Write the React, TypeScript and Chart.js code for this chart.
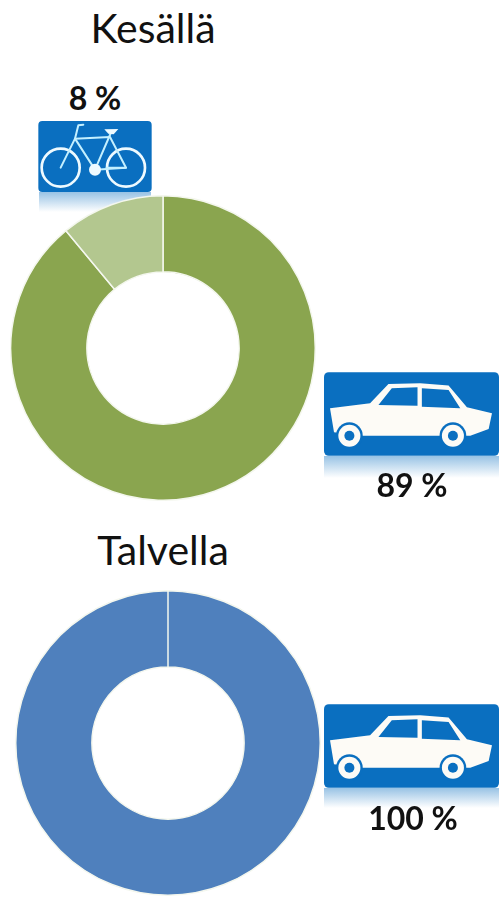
import React, { useEffect, useRef } from "react";
import { Chart, registerables } from "chart.js";

Chart.register(...registerables);

const summerTitle = "Kesällä";
const winterTitle = "Talvella";
const summerCategories = ["Auto", "Polkupyörä"];
// Slice sizes as drawn in the picture (the light slice is wider than its 8 % label).
const summerSlices = [89, 11];
const summerCarLabel = 89;
const summerBikeLabel = 8;
const winterCategories = ["Auto"];
const winterSlices = [100];
const winterCarLabel = 100;
const summerColors = ["#8aa54f", "#b3c78f"];
const winterColors = ["#4f80bd"];

const SIGN = "#0a6fc0";
const FONT = "Lato, 'Open Sans', sans-serif";

function Donut(p: { labels: string[]; data: number[]; colors: string[]; cx: number; cy: number; r: number }) {
  const ref = useRef<HTMLCanvasElement>(null);
  useEffect(() => {
    const chart = new Chart(ref.current!, {
      type: "doughnut",
      data: {
        labels: p.labels,
        datasets: [{ data: p.data, backgroundColor: p.colors, borderColor: "#f4f7ee", borderWidth: 1.5 }],
      },
      options: {
        responsive: false,
        animation: false,
        cutout: "50%",
        plugins: { legend: { display: false }, tooltip: { enabled: false } },
      },
    });
    return () => chart.destroy();
  }, []);
  const s = p.r * 2;
  return (
    <canvas
      ref={ref}
      width={s}
      height={s}
      style={{ position: "absolute", left: p.cx - p.r, top: p.cy - p.r, width: s, height: s }}
    />
  );
}

function Txt(p: { x: number; y: number; size: number; bold?: boolean; children: React.ReactNode }) {
  return (
    <div
      style={{
        position: "absolute",
        left: p.x - 120,
        top: p.y - 30,
        width: 240,
        height: 60,
        lineHeight: "60px",
        textAlign: "center",
        fontFamily: FONT,
        fontSize: p.size,
        fontWeight: p.bold ? 700 : 400,
        color: "#111",
      }}
    >
      {p.children}
    </div>
  );
}

function Reflection(p: { id: string; x: number; y: number; w: number; h: number }) {
  return (
    <svg style={{ position: "absolute", left: p.x, top: p.y }} width={p.w} height={p.h}>
      <defs>
        <linearGradient id={p.id} x1="0" y1="0" x2="0" y2="1">
          <stop offset="0" stopColor={SIGN} stopOpacity="0.42" />
          <stop offset="1" stopColor={SIGN} stopOpacity="0" />
        </linearGradient>
      </defs>
      <rect width={p.w} height={p.h} fill={`url(#${p.id})`} />
    </svg>
  );
}

function CarSign(p: { x: number; y: number }) {
  return (
    <svg style={{ position: "absolute", left: p.x, top: p.y }} width={175} height={84} viewBox="0 0 524 250">
      <rect width="524" height="250" rx="14" fill={SIGN} />
      <path
        d="M18 108 L138 93 L193 35 L288 33 L373 40 L428 105 L503 123 L493 170 L438 190 L113 190 L30 180 Z"
        fill="#fdfbf6"
      />
      <path d="M163 98 L203 48 L280 45 L280 100 Z M293 48 L373 53 L408 108 L293 103 Z" fill={SIGN} />
      {[76, 386].map((cx) => (
        <g key={cx}>
          <circle cx={cx} cy={190} r={40} fill={SIGN} />
          <circle cx={cx} cy={190} r={33} fill="#fdfbf6" />
          <circle cx={cx} cy={190} r={15} fill={SIGN} />
        </g>
      ))}
    </svg>
  );
}

function BikeSign(p: { x: number; y: number }) {
  return (
    <svg style={{ position: "absolute", left: p.x, top: p.y }} width={114} height={71} viewBox="0 0 340 213">
      <rect width="340" height="213" rx="12" fill={SIGN} />
      <g fill="none" stroke="#eefaff" strokeWidth="8" strokeLinecap="round" strokeLinejoin="round">
        <circle cx="67" cy="140" r="57" />
        <circle cx="263" cy="140" r="57" />
      </g>
      <g fill="none" stroke="#c4f0ff" strokeWidth="6" strokeLinecap="round" strokeLinejoin="round">
        <path d="M67 140 L110 53 L215 48 L263 140 L170 146 L110 53" />
        <path d="M220 30 L170 146 M205 140 L263 140" />
        <path d="M110 53 L120 13 L135 11" />
      </g>
      <path d="M198 25 L240 24 L226 40 L210 38 Z" fill="#eefaff" />
      <circle cx="170" cy="146" r="18" fill="#eefaff" />
    </svg>
  );
}

export default function App() {
  return (
    <div
      style={{
        position: "absolute",
        left: 0,
        top: 0,
        width: 499,
        height: 897,
        background: "#fff",
        overflow: "hidden",
        filter: "blur(0.4px)",
      }}
    >
      <Txt x={153} y={28} size={41}>{summerTitle}</Txt>
      <Txt x={95} y={98} size={32} bold>{summerBikeLabel} %</Txt>
      <Reflection id="r1" x={39} y={192} w={112} h={20} />
      <BikeSign x={38} y={121} />
      <Donut labels={summerCategories} data={summerSlices} colors={summerColors} cx={163} cy={348} r={153} />
      <Reflection id="r2" x={324} y={456} w={175} h={22} />
      <CarSign x={324} y={372} />
      <Txt x={412} y={485} size={32} bold>{summerCarLabel} %</Txt>
      <Txt x={163} y={550} size={41}>{winterTitle}</Txt>
      <Donut labels={winterCategories} data={winterSlices} colors={winterColors} cx={168} cy={743} r={153} />
      <Reflection id="r3" x={324} y={788} w={175} h={20} />
      <CarSign x={324} y={704} />
      <Txt x={413} y={818} size={32} bold>{winterCarLabel} %</Txt>
    </div>
  );
}
